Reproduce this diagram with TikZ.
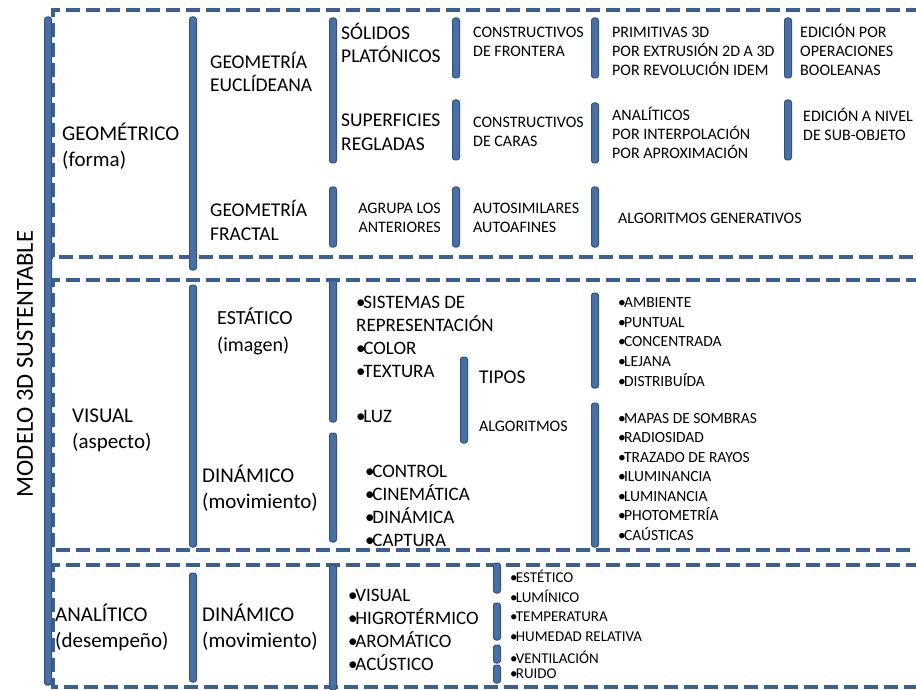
\documentclass[tikz,border=0pt]{standalone}
\usepackage{fontspec}
\setmainfont{Carlito}
\usepackage{xcolor}
\usepackage{tikz}
\usetikzlibrary{positioning}

\definecolor{azul}{RGB}{60,95,145}
\definecolor{azulbarra}{RGB}{74,111,165}
\definecolor{azulborde}{RGB}{50,82,130}
\newcommand{\punto}{•\kern-0.12em}

\begin{document}
\begin{tikzpicture}[x=1pt,y=-1pt,
	caja/.style={draw=azul,line width=3.5pt,dash pattern=on 14pt off 6pt},
	barra/.style={draw=azulborde,fill=azulbarra,line width=1pt,rounded corners=2.5pt},
	grande/.style={anchor=base west,inner sep=0pt,align=left,font=\fontsize{21}{26}\selectfont},
	medio/.style={anchor=base west,inner sep=0pt,align=left,font=\fontsize{19.5}{23.5}\selectfont},
	chico/.style={anchor=base west,inner sep=0pt,align=left,font=\fontsize{16}{19}\selectfont}]
	\clip (0,0) rectangle (916,690);
	% los nodos de varias lineas van por la base de la ultima linea

	% cajas punteadas
	\draw[caja] (940,10) -- (53,10) -- (53,257) -- (940,257);
	\draw[caja] (940,280) -- (53,280) -- (53,550) -- (940,550);
	\draw[caja] (940,565) -- (53,565) -- (53,687) -- (940,687);

	% barra principal
	\draw[barra] (44.5,17) rectangle (51.5,685);
	\node[rotate=90,inner sep=0pt,font=\fontsize{24.5}{29}\selectfont] (modelo) at (25,364) {MODELO 3D SUSTENTABLE};

	% columna 1
	\node[grande] (geometrico) at (62,167) {GEOMÉTRICO\\(forma)};
	\node[grande] (visual) at (72,448) {VISUAL\\(aspecto)};
	\node[grande] (analitico) at (55,647) {ANALÍTICO\\(desempeño)};

	% columna 2
	\draw[barra] (189.5,17) rectangle (196.5,270);
	\draw[barra] (189.5,285) rectangle (196.5,547);
	\draw[barra] (189.5,573) rectangle (196.5,682);
	\node[medio] (euclidea) at (210,92) {GEOMETRÍA\\EUCLÍDEANA};
	\node[medio] (fractal) at (210,240) {GEOMETRÍA\\FRACTAL};
	\node[medio,font=\fontsize{20}{26.5}\selectfont] (estatico) at (217,351) {ESTÁTICO\\(imagen)};
	\node[grande] (dinamico) at (202,508) {DINÁMICO\\(movimiento)};
	\node[grande] (dinamicob) at (202,647) {DINÁMICO\\(movimiento)};

	% columna 3
	\draw[barra] (329.5,18) rectangle (336.5,163);
	\draw[barra] (329.5,187) rectangle (336.5,247);
	\draw[barra] (329.5,280) rectangle (336.5,422);
	\draw[barra] (329.5,433) rectangle (336.5,542);
	\draw[barra] (329.5,565) rectangle (336.5,690);
	\node[medio] (solidos) at (341,63) {SÓLIDOS\\PLATÓNICOS};
	\node[medio] (superficies) at (341,150) {SUPERFICIES\\REGLADAS};
	\node[chico,align=right,anchor=base east] (agrupa) at (441,233) {AGRUPA LOS\\ANTERIORES};
	\node[medio,font=\fontsize{19}{23}\selectfont] (sistemas) at (356,377) {\punto SISTEMAS DE\\REPRESENTACIÓN\\\punto COLOR\\\punto TEXTURA};
	\node[medio,font=\fontsize{19}{23}\selectfont] (luz) at (356,422) {\punto LUZ};
	\node[medio,font=\fontsize{19}{23}\selectfont] (control) at (365,546) {\punto CONTROL\\\punto CINEMÁTICA\\\punto DINÁMICA\\\punto CAPTURA};
	\node[medio,font=\fontsize{19}{23}\selectfont] (higro) at (348,670) {\punto VISUAL\\\punto HIGROTÉRMICO\\\punto AROMÁTICO\\\punto ACÚSTICO};

	% columna 4
	\draw[barra] (452.5,18) rectangle (459.5,78);
	\draw[barra] (452.5,100) rectangle (459.5,160);
	\draw[barra] (452.5,187) rectangle (459.5,247);
	\draw[barra] (460.5,357) rectangle (467.5,443);
	\draw[barra] (493.5,563) rectangle (500.5,593);
	\draw[barra] (493.5,603) rectangle (500.5,640);
	\draw[barra] (493.5,645) rectangle (500.5,663);
	\draw[barra] (493.5,665) rectangle (500.5,683);
	\node[chico] (frontera) at (473,57) {CONSTRUCTIVOS\\DE FRONTERA};
	\node[chico] (caras) at (473,147) {CONSTRUCTIVOS\\DE CARAS};
	\node[chico] (autosim) at (473,233) {AUTOSIMILARES\\AUTOAFINES};
	\node[medio] (tipos) at (479,383) {TIPOS};
	\node[chico] (algoritmos) at (479,431) {ALGORITMOS};
	\node[chico,font=\fontsize{15}{19.5}\selectfont] (estetico) at (510,641) {\punto ESTÉTICO\\\punto LUMÍNICO\\\punto TEMPERATURA\\\punto HUMEDAD RELATIVA};
	\node[chico,font=\fontsize{15}{15}\selectfont] (ruido) at (510,678) {\punto VENTILACIÓN\\\punto RUIDO};

	% columna 5
	\draw[barra] (591.5,18) rectangle (598.5,78);
	\draw[barra] (591.5,103) rectangle (598.5,163);
	\draw[barra] (591.5,187) rectangle (598.5,247);
	\draw[barra] (591.5,293) rectangle (598.5,388);
	\draw[barra] (591.5,403) rectangle (598.5,547);
	\node[chico] (primitivas) at (612,76) {PRIMITIVAS 3D\\POR EXTRUSIÓN 2D A 3D\\POR REVOLUCIÓN IDEM};
	\node[chico] (analiticos) at (612,159) {ANALÍTICOS\\POR INTERPOLACIÓN\\POR APROXIMACIÓN};
	\node[chico] (generativos) at (618,223) {ALGORITMOS GENERATIVOS};
	\node[chico,font=\fontsize{15.5}{19.6}\selectfont] (ambiente) at (618,386) {\punto AMBIENTE\\\punto PUNTUAL\\\punto CONCENTRADA\\\punto LEJANA\\\punto DISTRIBUÍDA};
	\node[chico,font=\fontsize{15.5}{19.5}\selectfont] (sombras) at (618,540) {\punto MAPAS DE SOMBRAS\\\punto RADIOSIDAD\\\punto TRAZADO DE RAYOS\\\punto ILUMINANCIA\\\punto LUMINANCIA\\\punto PHOTOMETRÍA\\\punto CAÚSTICAS};

	% columna 6
	\draw[barra] (784.5,18) rectangle (791.5,78);
	\draw[barra] (784.5,100) rectangle (791.5,160);
	\node[chico] (booleanas) at (800,76) {EDICIÓN POR\\OPERACIONES\\BOOLEANAS};
	\node[chico] (subobjeto) at (803,141) {EDICIÓN A NIVEL\\DE SUB-OBJETO};
\end{tikzpicture}
\end{document}
